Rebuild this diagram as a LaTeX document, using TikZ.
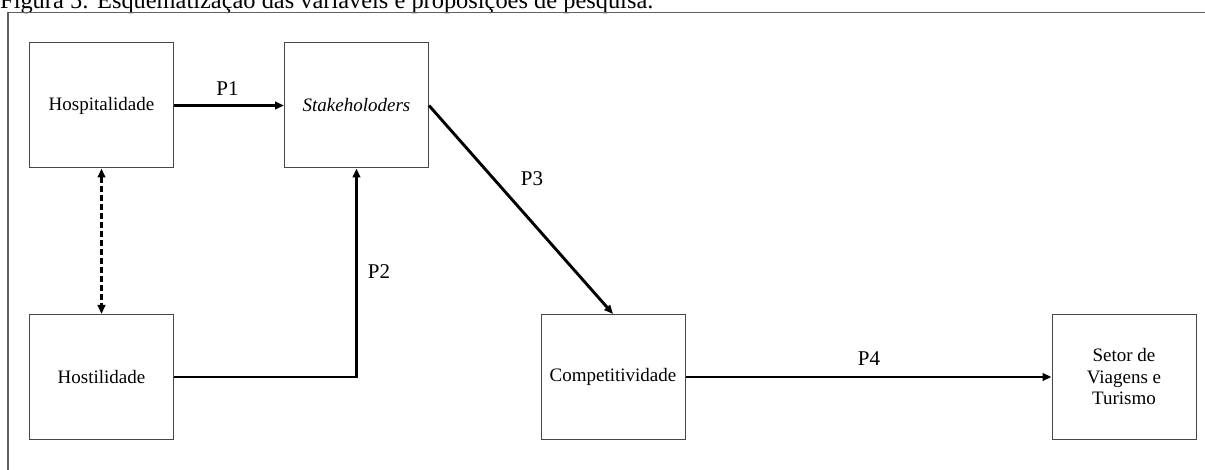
\documentclass[tikz,border=0pt]{standalone}
\usepackage{fontspec}
\setmainfont{Liberation Serif}
\usetikzlibrary{arrows.meta}
\begin{document}
\begin{tikzpicture}[x=1pt,y=-1pt,
  box/.style={draw=black!72, line width=1pt, minimum width=144pt, minimum height=125pt, inner sep=0pt, font=\fontsize{19}{21.5}\selectfont, align=center},
  conn/.style={line width=2.9pt, -{Triangle[length=9pt,width=7.5pt]}},
  biconn/.style={line width=2.9pt, {Triangle[length=9pt,width=7.5pt]}-{Triangle[length=9pt,width=7.5pt]}, dash pattern=on 6pt off 3pt},
  lab/.style={font=\fontsize{21}{24}\selectfont, inner sep=0pt},
  frameline/.style={draw=black!62, line width=1.1pt}
]
\clip (0,0) rectangle (1205,470);
\fill[white] (0,0) rectangle (1205,470);
\node[anchor=base west, inner sep=0pt, font=\fontsize{24.4}{28}\selectfont] (title) at (0,8.5) {Figura 5: Esquematização das variáveis e proposições de pesquisa.};
\draw[frameline] (8,475) -- (8,12.5) -- (1210,12.5);

\node[box] (hosp) at (101.5,105.5) {Hospitalidade};
\node[box] (stake) at (356.5,105.5) {\itshape Stakeholoders};
\node[box] (host) at (101.5,377) {Hostilidade};
\node[box] (comp) at (613,377) {Competitividade};
\node[box] (setor) at (1124,377) {Setor de\\Viagens e\\Turismo};

\draw[conn] (hosp) -- (stake);
\draw[biconn] (hosp) -- (host);
\draw[conn] (host.east) -| (stake.south);
\draw[conn] (stake.east) -- (comp.north);
\draw[conn] (comp) -- (setor);

\node[lab] (p1) at (227.5,89) {P1};
\node[lab] (p2) at (379,272) {P2};
\node[lab] (p3) at (532,179) {P3};
\node[lab] (p4) at (869,359) {P4};
\end{tikzpicture}
\end{document}
